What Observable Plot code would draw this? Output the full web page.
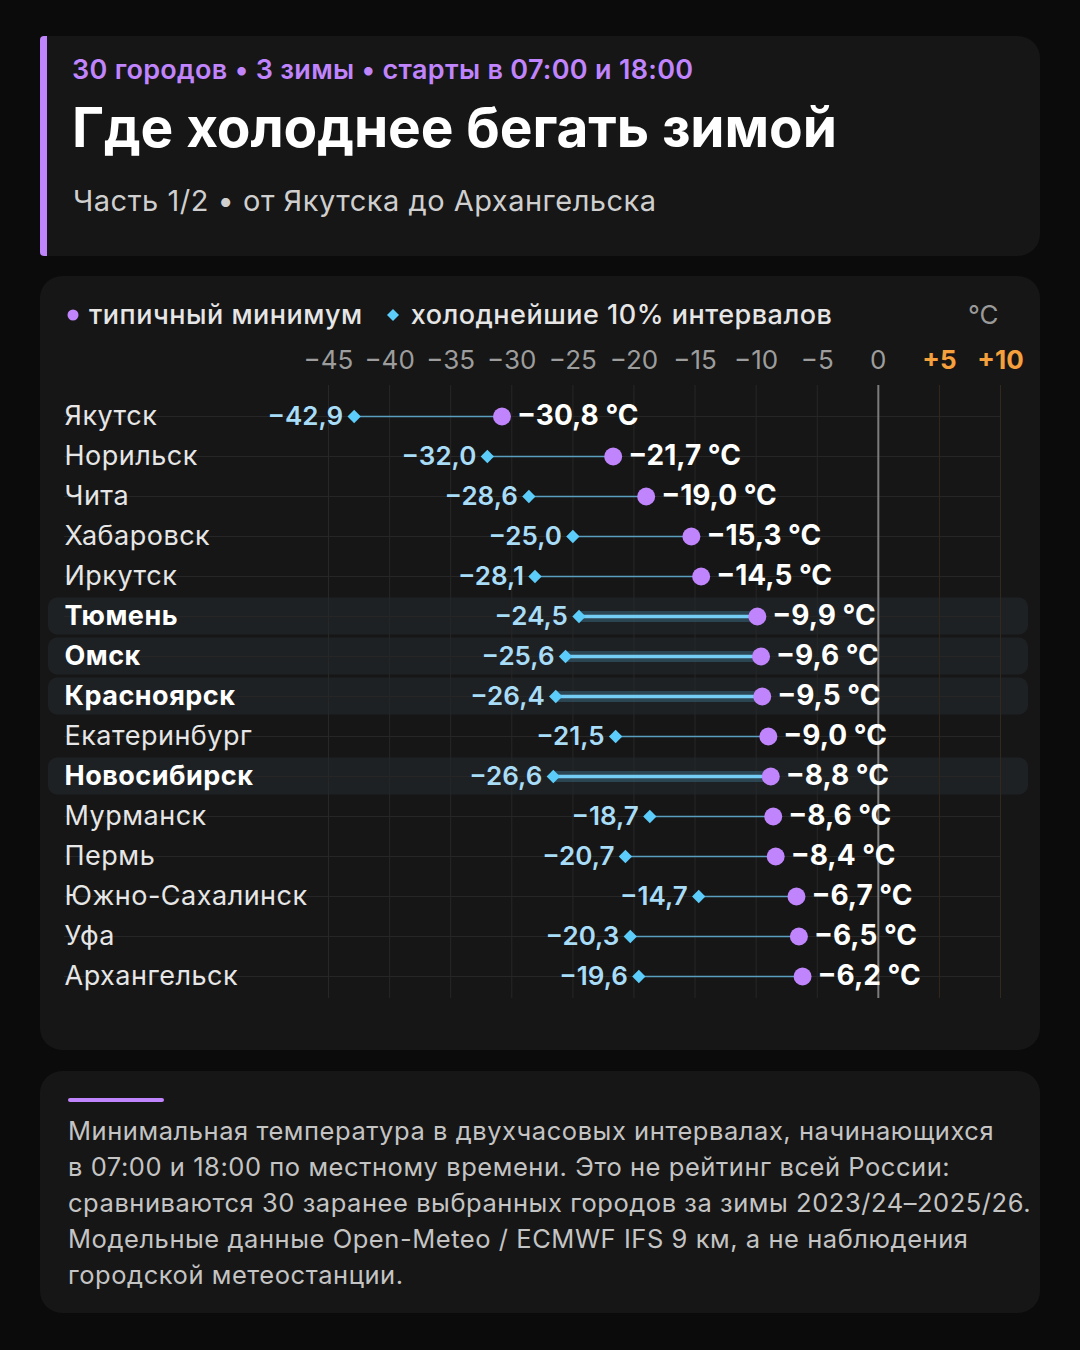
<!DOCTYPE html>
<html lang="ru">
<head>
<meta charset="utf-8">
<script src="https://cdn.jsdelivr.net/npm/d3@7"></script>
<script src="https://cdn.jsdelivr.net/npm/@observablehq/plot@0.6"></script>
<style>
  html, body { margin: 0; padding: 0; }
  body { width: 1080px; height: 1350px; background: #0b0b0b; position: relative; overflow: hidden;
         font-family: Inter, "Noto Sans", sans-serif; color: #fff; }
  .panel { position: absolute; left: 40px; width: 1000px; background: #161616; border-radius: 22px; }
  #head { top: 36px; height: 220px; border-left: 7px solid #c084fc; width: 993px; border-radius: 4px 22px 22px 4px; }
  .abs { position: absolute; white-space: nowrap; }
  #kicker { left: 72px; top: 57px; font-size: 27px; line-height: 26px; font-weight: 600; color: #c084fc; letter-spacing: 0.3px; }
  #title { left: 72px; top: 100px; font-size: 55px; line-height: 55px; font-weight: 700; color: #fff; letter-spacing: -0.1px; }
  #sub { left: 73px; top: 187px; font-size: 29px; line-height: 28px; font-weight: 400; color: #cfcfcf; letter-spacing: 0.5px; }
  #chartPanel { top: 276px; height: 774px; }
  #legend { left: 66px; top: 302px; font-size: 27px; line-height: 26px; font-weight: 500; color: #e6e6e6; letter-spacing: 0.5px; }
  #legend .sw { display: inline-block; vertical-align: middle; }
  #unit { left: 968px; top: 302px; font-size: 26px; line-height: 26px; color: #9a9a9a; }
  #chart { position: absolute; left: 40px; top: 330px; }
  #capPanel { top: 1071px; height: 242px; }
  #capBar { left: 68px; top: 1098px; width: 96px; height: 4px; background: #c084fc; border-radius: 2px; }
  #caption { left: 68px; top: 1113px; font-size: 25.5px; line-height: 36px; color: #c4c4c4; letter-spacing: 0.55px; }
</style>
</head>
<body>
<div class="panel" id="head"></div>
<div class="abs" id="kicker">30 городов • 3 зимы • старты в 07:00 и 18:00</div>
<div class="abs" id="title">Где холоднее бегать зимой</div>
<div class="abs" id="sub">Часть 1/2 • от Якутска до Архангельска</div>

<div class="panel" id="chartPanel"></div>
<div class="abs" id="legend"><svg class="sw" width="14" height="14" style="margin-right:9px;margin-top:-3px"><circle cx="7" cy="7" r="5.5" fill="#c084fc"/></svg>типичный минимум<svg class="sw" width="16" height="16" style="margin-left:22px;margin-right:10px;margin-top:-3px"><path d="M8 2 L14 8 L8 14 L2 8 Z" fill="#5ccdfa"/></svg>холоднейшие 10% интервалов</div>
<div class="abs" id="unit">°C</div>
<div id="chart"></div>

<div class="panel" id="capPanel"></div>
<div class="abs" id="capBar"></div>
<div class="abs" id="caption">Минимальная температура в двухчасовых интервалах, начинающихся<br>в 07:00 и 18:00 по местному времени. Это не рейтинг всей России:<br>сравниваются 30 заранее выбранных городов за зимы 2023/24–2025/26.<br>Модельные данные Open-Meteo / ECMWF IFS 9 км, а не наблюдения<br>городской метеостанции.</div>

<script>
// ---- data ----
const cities = ["Якутск","Норильск","Чита","Хабаровск","Иркутск","Тюмень","Омск","Красноярск","Екатеринбург","Новосибирск","Мурманск","Пермь","Южно-Сахалинск","Уфа","Архангельск"];
const coldest10 = [-42.9,-32.0,-28.6,-25.0,-28.1,-24.5,-25.6,-26.4,-21.5,-26.6,-18.7,-20.7,-14.7,-20.3,-19.6];
const typicalMin = [-30.8,-21.7,-19.0,-15.3,-14.5,-9.9,-9.6,-9.5,-9.0,-8.8,-8.6,-8.4,-6.7,-6.5,-6.2];
const highlighted = ["Тюмень","Омск","Красноярск","Новосибирск"];
const tickValues = [-45,-40,-35,-30,-25,-20,-15,-10,-5,0,5,10];

const data = cities.map((c, i) => ({city: c, cold: coldest10[i], warm: typicalMin[i], bold: highlighted.includes(c)}));
const fmt = v => (v < 0 ? "\u2212" : "") + Math.abs(v).toFixed(1).replace(".", ",");
const tickFmt = v => v < 0 ? "\u2212" + Math.abs(v) : v > 0 ? "+" + v : "0";

// highlight band behind selected rows, positioned by the y scale
const bandMark = (index, scales, values, dimensions) => {
  const g = d3.create("svg:g");
  for (const c of highlighted) {
    const cy = scales.y(c);
    g.append("rect").attr("x", 8).attr("width", dimensions.width - 20)
      .attr("y", cy - 18.5).attr("height", 37).attr("rx", 9)
      .attr("fill", "#1e2124");
  }
  return g.node();
};

const rowFont = "Inter, 'Noto Sans', sans-serif";
const chart = Plot.plot({
  width: 1000, height: 680,
  marginLeft: 288, marginRight: 40, marginTop: 55, marginBottom: 12,
  x: {domain: [-45, 10], axis: null},
  y: {type: "point", domain: cities, axis: null, padding: 0, range: [86, 646]},
  style: {background: "transparent", fontFamily: rowFont, overflow: "visible"},
  marks: [
    bandMark,
    Plot.ruleY(cities, {y: d => d, stroke: "#262626", strokeWidth: 1, insetLeft: -264}),
    Plot.ruleX(tickValues.filter(d => d !== 0), {x: d => d, stroke: d => d > 0 ? "#33281d" : "#272727", strokeWidth: 1}),
    Plot.ruleX([0], {x: d => d, stroke: "#7c7c7c", strokeWidth: 2}),
    Plot.text(tickValues.filter(d => d <= 0), {x: d => d, text: tickFmt, frameAnchor: "top", lineAnchor: "middle", dy: -25, fontSize: 26,
      fill: "#9d9d9d", fontWeight: 400}),
    Plot.text(tickValues.filter(d => d > 0), {x: d => d, text: tickFmt, frameAnchor: "top", lineAnchor: "middle", dy: -25, fontSize: 26,
      fill: "#f5a03c", fontWeight: 700}),
    // connectors
    Plot.link(data.filter(d => d.bold), {x1: "cold", x2: "warm", y1: "city", y2: "city", stroke: "#3a6a80", strokeOpacity: 0.5, strokeWidth: 11}),
    Plot.link(data.filter(d => d.bold), {x1: "cold", x2: "warm", y1: "city", y2: "city", stroke: "#74cdf5", strokeWidth: 3.5}),
    Plot.link(data.filter(d => !d.bold), {x1: "cold", x2: "warm", y1: "city", y2: "city", stroke: "#5a9fc0", strokeWidth: 1.6}),
    Plot.dot(data, {x: "cold", y: "city", symbol: "diamond2", r: 6, fill: "#5ccdfa"}),
    Plot.dot(data, {x: "warm", y: "city", r: 9, fill: "#c084fc"}),
    Plot.text(data, {x: "cold", y: "city", text: d => fmt(d.cold), textAnchor: "end", dx: -11, fontSize: 26, fontWeight: 600, fill: "#a8dcf7"}),
    Plot.text(data, {x: "warm", y: "city", text: d => fmt(d.warm) + " °C", textAnchor: "start", dx: 15, fontSize: 28, fontWeight: 700, fill: "#ffffff"}),
    Plot.text(data.filter(d => !d.bold), {y: "city", text: "city", frameAnchor: "left", dx: -264, textAnchor: "start", fontSize: 27, fontWeight: 400, fill: "#e6e6e6", className: "city-label"}),
    Plot.text(data.filter(d => d.bold), {y: "city", text: "city", frameAnchor: "left", dx: -264, textAnchor: "start", fontSize: 27, fontWeight: 700, fill: "#ffffff", className: "city-label"})
  ]
});
document.getElementById("chart").appendChild(chart);
// slightly wider tracking on city names
d3.select(chart).selectAll("text").filter(function() { return cities.includes(this.textContent); })
  .style("letter-spacing", "0.5px");
</script>
</body>
</html>
